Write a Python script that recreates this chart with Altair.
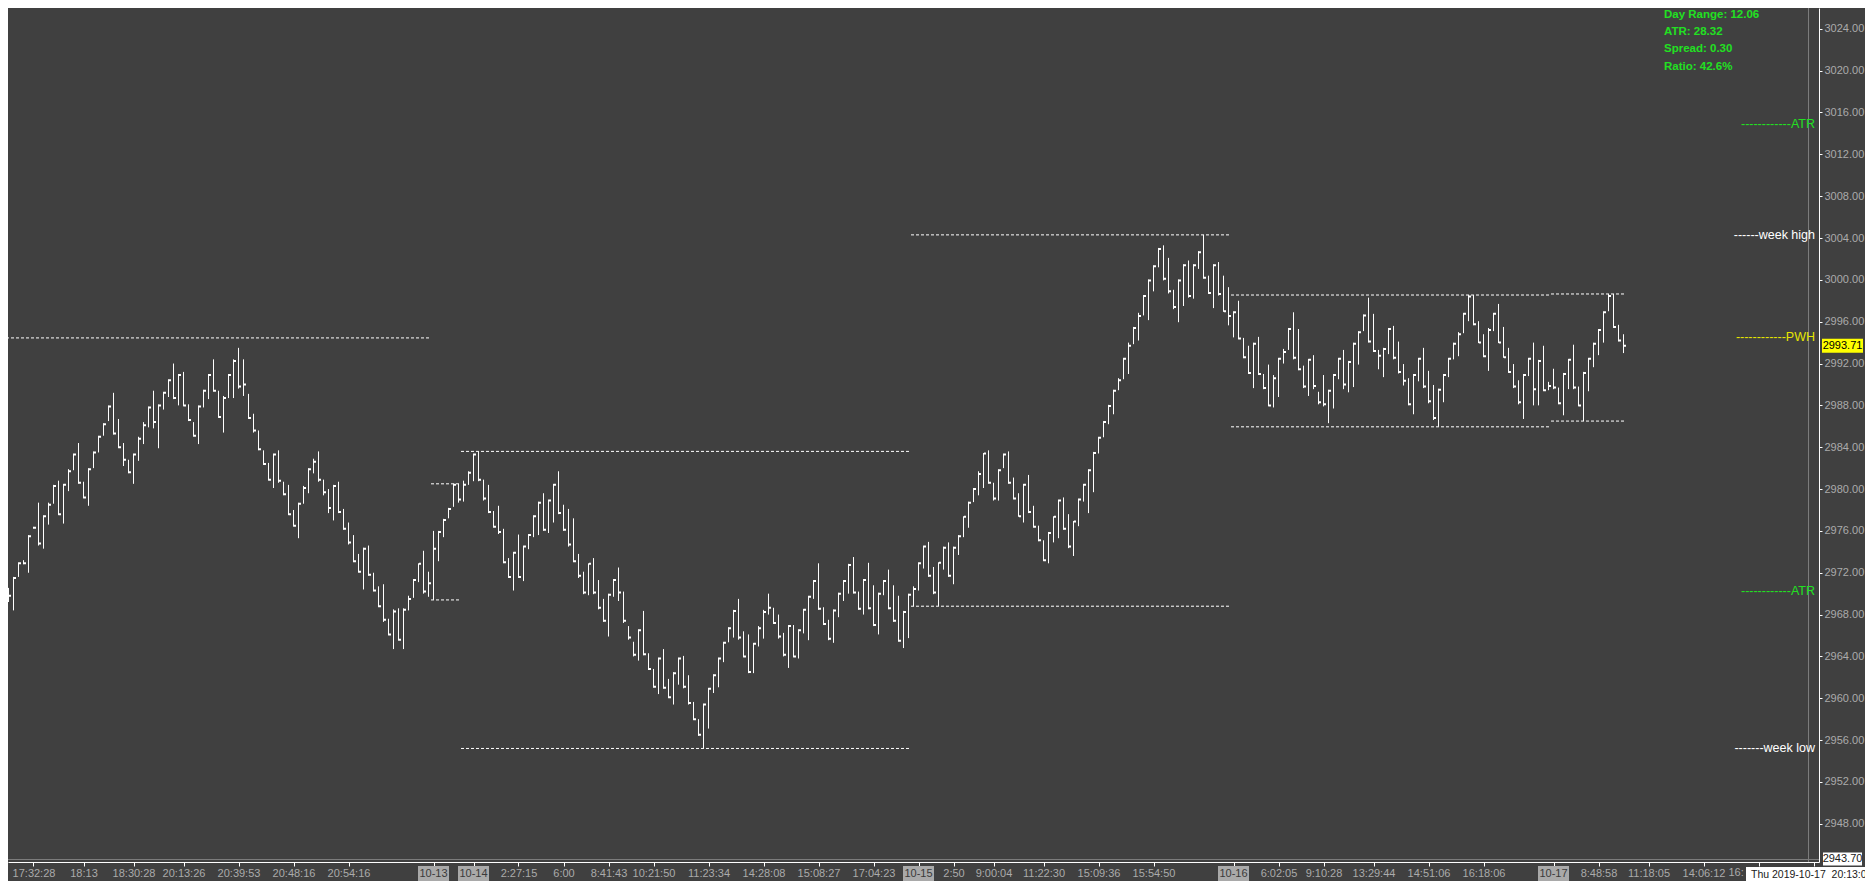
import json
import altair as alt
import pandas as pd

# ---------------- layout / style ----------------
W, H = 1811, 854
PAD_R, PAD_B = 46, 19
BG = "#404040"
WHITE = "#ffffff"
GREEN = "#22e022"
YELLOW = "#e6e600"
AXIS_TXT = "#ababab"
FONT = "Liberation Sans"

# ---------------- data ----------------
high = [
    2970.55, 2971.6, 2973.0, 2973.2, 2975.6, 2976.4, 2978.7, 2977.5, 2978.7, 2980.4,
    2980.8, 2980.5, 2981.9, 2983.4, 2984.4, 2980.7, 2982.0, 2983.6, 2985.1, 2986.3,
    2988.0, 2989.2, 2986.7, 2984.4, 2982.8, 2983.4, 2985.0, 2986.4, 2987.9, 2989.4,
    2988.1, 2989.3, 2990.5, 2992.0, 2991.0, 2991.2, 2988.1, 2986.4, 2988.0, 2989.5,
    2991.0, 2992.4, 2989.4, 2988.9, 2991.0, 2992.4, 2993.5, 2992.4, 2989.1, 2987.2,
    2985.6, 2983.7, 2982.5, 2983.4, 2983.7, 2980.7, 2980.4, 2978.0, 2978.7, 2980.3,
    2982.0, 2982.9, 2983.6, 2980.9, 2980.0, 2980.4, 2980.7, 2978.1, 2976.8, 2975.6,
    2973.8, 2974.4, 2974.6, 2972.0, 2970.7, 2970.9, 2967.6, 2968.5, 2968.6, 2968.6,
    2969.8, 2971.4, 2972.9, 2974.1, 2972.1, 2976.0, 2976.0, 2977.15, 2978.2, 2980.5,
    2980.5, 2980.8, 2981.7, 2983.4, 2983.6, 2980.9, 2980.4, 2977.9, 2978.4, 2976.2,
    2973.4, 2974.0, 2975.65, 2974.6, 2975.7, 2977.5, 2978.8, 2979.6, 2979.0, 2980.5,
    2981.7, 2978.5, 2978.1, 2977.2, 2973.8, 2972.1, 2972.9, 2973.4, 2971.3, 2969.5,
    2970.0, 2971.4, 2972.5, 2970.2, 2966.9, 2965.4, 2966.6, 2968.35, 2964.3, 2962.8,
    2963.9, 2964.7, 2961.85, 2962.5, 2963.9, 2964.05, 2962.2, 2959.65, 2958.0, 2959.5,
    2961.0, 2962.3, 2963.9, 2965.4, 2966.8, 2968.45, 2969.5, 2966.4, 2966.1, 2965.3,
    2966.9, 2968.45, 2970.0, 2968.65, 2968.0, 2966.25, 2967.0, 2967.0, 2966.6, 2968.55,
    2969.8, 2971.3, 2972.9, 2968.7, 2967.5, 2968.5, 2970.1, 2971.3, 2972.85, 2973.5,
    2970.2, 2971.4, 2972.95, 2970.8, 2970.1, 2971.3, 2972.3, 2970.8, 2969.8, 2968.35,
    2970.0, 2970.7, 2973.0, 2974.6, 2974.95, 2972.55, 2973.0, 2974.5, 2974.9, 2974.5,
    2975.6, 2977.4, 2978.8, 2980.1, 2981.7, 2983.45, 2983.7, 2980.6, 2981.9, 2983.4,
    2983.6, 2981.1, 2979.6, 2980.5, 2981.35, 2978.4, 2976.5, 2975.1, 2975.9, 2977.4,
    2979.0, 2979.2, 2977.6, 2976.95, 2979.1, 2980.5, 2981.9, 2983.55, 2985.0, 2986.5,
    2988.05, 2989.5, 2990.6, 2992.55, 2994.0, 2995.5, 2996.85, 2998.55, 3000.05, 3001.4,
    3003.05, 3003.3, 3002.1, 2999.05, 3000.05, 3001.5, 3001.85, 3001.5, 3002.75, 3004.3,
    3000.4, 3001.5, 3001.7, 3000.4, 2999.3, 2997.0, 2998.0, 2994.45, 2993.7, 2994.0,
    2994.55, 2991.0, 2991.9, 2990.9, 2992.55, 2993.4, 2995.4, 2996.9, 2995.3, 2991.8,
    2992.45, 2992.8, 2989.3, 2990.9, 2989.5, 2991.0, 2992.55, 2993.3, 2992.25, 2994.0,
    2995.1, 2996.7, 2998.3, 2996.75, 2993.3, 2993.5, 2995.4, 2995.6, 2994.1, 2991.95,
    2990.6, 2991.0, 2992.55, 2993.5, 2991.3, 2989.95, 2989.6, 2991.0, 2992.55, 2994.0,
    2995.0, 2996.85, 2998.55, 2998.55, 2996.05, 2994.8, 2995.4, 2996.85, 2997.7, 2995.5,
    2993.5, 2991.95, 2990.4, 2991.0, 2992.55, 2994.0, 2992.35, 2993.7, 2990.25, 2991.5,
    2989.7, 2991.1, 2992.45, 2993.8, 2989.8, 2991.2, 2992.55, 2994.0, 2995.3, 2997.0,
    2998.65, 2998.65, 2995.7, 2994.8,
]
low = [
    2969.2, 2968.4, 2971.6, 2972.8, 2972.0, 2976.2, 2974.6, 2974.3, 2976.6, 2978.6,
    2977.5, 2976.7, 2979.8, 2981.8, 2980.5, 2979.1, 2978.4, 2982.0, 2983.5, 2985.1,
    2986.5, 2985.2, 2983.9, 2982.2, 2981.5, 2980.5, 2982.7, 2984.3, 2985.9, 2985.8,
    2983.9, 2987.6, 2988.8, 2988.6, 2988.0, 2987.9, 2986.5, 2985.0, 2984.3, 2987.8,
    2988.6, 2989.3, 2986.8, 2985.4, 2988.7, 2988.7, 2989.6, 2988.9, 2986.7, 2985.4,
    2983.7, 2982.3, 2980.8, 2980.1, 2980.6, 2979.4, 2977.5, 2976.4, 2975.3, 2978.6,
    2979.6, 2981.5, 2980.7, 2979.4, 2977.7, 2977.0, 2977.7, 2976.1, 2974.7, 2973.0,
    2972.0, 2970.4, 2971.7, 2970.2, 2968.7, 2967.3, 2966.0, 2964.7, 2965.5, 2964.7,
    2968.4, 2969.6, 2971.1, 2970.0, 2969.7, 2969.4, 2973.1, 2975.4, 2977.2, 2978.3,
    2978.7, 2978.8, 2980.4, 2980.75, 2980.75, 2978.9, 2977.7, 2976.3, 2975.7, 2972.9,
    2971.5, 2970.3, 2971.5, 2971.2, 2974.25, 2975.4, 2975.6, 2976.0, 2975.8, 2976.8,
    2977.6, 2976.0, 2974.5, 2973.0, 2971.5, 2969.95, 2969.85, 2969.95, 2968.5, 2967.3,
    2965.9, 2969.7, 2969.3, 2967.2, 2965.6, 2964.0, 2963.6, 2964.1, 2962.7, 2961.0,
    2960.4, 2960.9, 2960.0, 2959.4, 2961.3, 2960.95, 2959.4, 2957.9, 2956.4, 2955.2,
    2957.1, 2960.5, 2961.05, 2963.45, 2965.35, 2965.8, 2965.6, 2963.9, 2962.4, 2962.4,
    2964.95, 2965.7, 2968.0, 2967.1, 2965.7, 2964.0, 2962.9, 2963.9, 2963.8, 2966.2,
    2965.55, 2969.5, 2968.45, 2967.0, 2965.55, 2965.3, 2967.75, 2969.3, 2970.0, 2970.0,
    2968.45, 2968.0, 2968.5, 2966.9, 2966.1, 2969.85, 2968.5, 2967.3, 2965.4, 2964.8,
    2965.75, 2968.8, 2970.3, 2972.4, 2971.6, 2969.95, 2968.8, 2972.3, 2971.6, 2970.9,
    2973.7, 2975.4, 2976.3, 2978.75, 2979.4, 2980.1, 2980.5, 2978.9, 2978.9, 2982.0,
    2980.5, 2979.0, 2977.35, 2976.8, 2977.7, 2976.3, 2975.0, 2973.1, 2972.9, 2974.9,
    2975.3, 2976.1, 2974.35, 2973.6, 2976.45, 2978.8, 2977.7, 2979.7, 2983.4, 2984.95,
    2986.2, 2987.15, 2989.45, 2990.5, 2991.0, 2993.85, 2994.2, 2996.6, 2996.15, 2998.9,
    3001.2, 2999.95, 2998.7, 2997.2, 2995.95, 2997.5, 2998.3, 2998.2, 3001.05, 3000.1,
    2998.65, 2997.3, 2998.5, 2996.94, 2995.65, 2994.5, 2994.3, 2992.5, 2991.0, 2989.65,
    2990.9, 2989.55, 2987.9, 2987.8, 2988.8, 2992.0, 2993.3, 2992.4, 2991.35, 2989.65,
    2988.9, 2989.55, 2988.1, 2987.9, 2986.3, 2987.7, 2990.5, 2989.55, 2989.25, 2989.75,
    2991.9, 2995.1, 2994.0, 2993.1, 2991.45, 2990.7, 2992.9, 2992.4, 2991.05, 2989.9,
    2988.0, 2987.15, 2990.3, 2989.65, 2988.2, 2986.6, 2985.95, 2988.3, 2990.7, 2992.4,
    2992.7, 2994.9, 2996.05, 2995.65, 2993.95, 2992.6, 2991.3, 2995.1, 2993.95, 2992.55,
    2991.1, 2989.65, 2988.1, 2986.7, 2990.8, 2988.0, 2988.0, 2989.35, 2989.45, 2989.55,
    2988.1, 2987.05, 2989.55, 2989.55, 2987.9, 2986.5, 2989.35, 2991.65, 2992.8, 2994.0,
    2997.0, 2995.4, 2994.1, 2993.0,
]
close = [
    2969.8, 2971.5, 2972.9, 2972.9, 2975.5, 2976.3, 2974.8, 2977.4, 2978.5, 2980.3,
    2977.6, 2980.4, 2981.7, 2983.3, 2980.6, 2979.2, 2981.9, 2983.5, 2985.0, 2986.2,
    2987.9, 2985.3, 2984.0, 2982.8, 2981.6, 2983.3, 2984.8, 2986.1, 2987.8, 2986.4,
    2988.0, 2989.2, 2990.4, 2988.7, 2990.9, 2988.0, 2986.6, 2985.1, 2987.9, 2989.4,
    2990.9, 2989.4, 2986.9, 2988.7, 2990.9, 2992.25, 2989.8, 2990.0, 2986.8, 2985.6,
    2983.8, 2982.4, 2980.9, 2983.3, 2980.8, 2979.5, 2977.6, 2976.5, 2978.6, 2980.1,
    2981.9, 2982.6, 2980.9, 2979.7, 2978.2, 2980.3, 2977.8, 2976.2, 2974.9, 2973.1,
    2972.1, 2974.3, 2971.8, 2970.3, 2968.8, 2967.5, 2966.1, 2968.3, 2965.6, 2968.45,
    2969.5, 2971.3, 2972.85, 2970.2, 2971.0, 2974.3, 2975.9, 2977.05, 2978.1, 2980.4,
    2979.0, 2980.4, 2981.55, 2983.3, 2980.9, 2979.1, 2977.8, 2976.4, 2975.9, 2973.0,
    2971.6, 2973.9, 2971.6, 2974.5, 2975.6, 2977.4, 2978.7, 2976.1, 2978.9, 2980.4,
    2977.7, 2976.1, 2974.7, 2973.1, 2971.7, 2970.1, 2972.85, 2970.1, 2968.65, 2967.4,
    2969.9, 2971.3, 2970.1, 2967.4, 2965.8, 2964.15, 2966.5, 2964.2, 2962.8, 2961.1,
    2963.8, 2961.0, 2960.1, 2962.4, 2963.8, 2961.1, 2959.55, 2958.0, 2956.5, 2959.4,
    2960.9, 2962.2, 2963.8, 2965.3, 2966.7, 2968.35, 2965.8, 2964.0, 2962.5, 2965.2,
    2966.7, 2968.25, 2968.65, 2967.2, 2965.9, 2964.15, 2966.9, 2964.0, 2966.5, 2968.45,
    2969.7, 2971.2, 2968.55, 2967.1, 2965.7, 2968.4, 2970.0, 2971.2, 2972.75, 2970.1,
    2968.55, 2971.3, 2968.6, 2967.0, 2970.0, 2971.2, 2968.6, 2967.4, 2965.5, 2968.25,
    2969.9, 2970.45, 2972.9, 2974.5, 2971.7, 2970.1, 2972.95, 2974.4, 2971.7, 2974.4,
    2975.5, 2977.35, 2978.7, 2980.0, 2981.45, 2983.4, 2980.6, 2979.1, 2981.8, 2983.3,
    2980.6, 2979.1, 2977.4, 2980.4, 2977.8, 2976.4, 2975.1, 2973.2, 2975.8, 2977.35,
    2978.9, 2976.2, 2974.5, 2976.9, 2979.0, 2980.4, 2981.8, 2983.45, 2984.9, 2986.4,
    2987.95, 2989.4, 2990.4, 2992.45, 2993.7, 2995.4, 2996.55, 2998.45, 2999.95, 3001.3,
    3002.95, 3000.1, 2998.9, 2997.4, 2999.95, 3001.4, 2998.45, 3001.4, 3002.65, 3000.2,
    2998.75, 3001.4, 2998.65, 2997.0, 2996.55, 2996.9, 2994.4, 2992.6, 2991.1, 2993.9,
    2991.0, 2989.65, 2988.0, 2990.6, 2992.45, 2993.1, 2995.3, 2992.55, 2991.45, 2989.8,
    2992.35, 2989.85, 2988.3, 2988.1, 2989.4, 2990.9, 2992.45, 2990.0, 2992.15, 2993.9,
    2995.0, 2996.6, 2994.1, 2993.2, 2992.75, 2993.4, 2995.3, 2992.55, 2991.2, 2990.35,
    2988.1, 2990.9, 2992.45, 2989.8, 2988.4, 2986.8, 2989.5, 2990.9, 2992.45, 2993.9,
    2994.8, 2996.75, 2998.4, 2995.75, 2994.0, 2992.7, 2995.2, 2996.75, 2994.0, 2992.6,
    2991.2, 2989.8, 2988.3, 2990.9, 2992.45, 2989.55, 2992.25, 2989.45, 2989.85, 2989.7,
    2988.2, 2991.0, 2992.35, 2989.7, 2988.0, 2991.1, 2992.45, 2993.9, 2995.2, 2996.9,
    2998.45, 2995.5, 2994.2, 2993.71,
]
assert len(high) == len(low) == len(close)

# session levels (dashed white lines)
day_names = ["10-13", "10-14", "10-15", "10-16", "10-17"]
day_first = [85, 91, 181, 245, 309]
day_last = [90, 180, 244, 308, 323]
day_high = [2980.5, 2983.6, 3004.3, 2998.55, 2998.65]
day_low = [2969.4, 2955.2, 2968.8, 2985.95, 2986.5]

# previous week high (left dashed line)
pwh_price = 2994.45
pwh_first, pwh_last = 0, 84

# right-edge annotations
ann_text = ["------------ATR", "------week high", "------------PWH", "------------ATR", "-------week low"]
ann_price = [3014.9, 3004.3, 2994.5, 2970.3, 2955.2]
ann_color = [GREEN, WHITE, YELLOW, GREEN, WHITE]

info_lines = ["Day Range: 12.06", "ATR: 28.32", "Spread: 0.30", "Ratio: 42.6%"]

last_price = 2993.71
bottom_price = 2943.70
date_text = "Thu 2019-10-17\u00a0 20:13:00"

# x-axis ticks (bar index) and labels
tick_idx = [5, 15, 25, 35, 46, 57, 68, 85, 93, 102, 111, 120, 129, 140, 151, 162, 173, 182,
            189, 197, 207, 218, 229, 245, 254, 263, 273, 284, 295, 309, 318, 328, 339, 350, 361]
tick_lbl = ["17:32:28", "18:13", "18:30:28", "20:13:26", "20:39:53", "20:48:16", "20:54:16",
            "10-13", "10-14", "2:27:15", "6:00", "8:41:43", "10:21:50", "11:23:34", "14:28:08",
            "15:08:27", "17:04:23", "10-15", "2:50", "9:00:04", "11:22:30", "15:09:36", "15:54:50",
            "10-16", "6:02:05", "9:10:28", "13:29:44", "14:51:06", "16:18:06", "10-17", "8:48:58",
            "11:18:05", "14:06:12", "16:", ""]

y_ticks = list(range(2948, 3025, 4))

# ---------------- frames ----------------
bars = pd.DataFrame({"i": list(range(len(high))), "high": high, "low": low, "close": close})

lv_rows = [{"x0": pwh_first - 0.5, "x1": pwh_last + 0.5, "level": pwh_price}]
for f, l, hi, lo in zip(day_first, day_last, day_high, day_low):
    lv_rows.append({"x0": f - 0.5, "x1": l + 0.5, "level": hi})
    lv_rows.append({"x0": f - 0.5, "x1": l + 0.5, "level": lo})
levels = pd.DataFrame(lv_rows)

ann = pd.DataFrame({"label": ann_text, "price": ann_price, "color": ann_color})

special = set(day_names) | {"16:"}
axis_map = {str(i): ("" if t in special else t) for i, t in zip(tick_idx, tick_lbl)}
day_lbl = pd.DataFrame([{"i": i, "name": t} for i, t in zip(tick_idx, tick_lbl) if t in day_names])
cut_lbl = pd.DataFrame([{"i": i, "name": t} for i, t in zip(tick_idx, tick_lbl) if t == "16:"])

# price scale: 10.46 px per point, same as the reference; 5 px per bar
PX_PER_PT = 10.46
PX_PER_BAR = 5.0
y_top = 3025.99
x_left = -0.1
ys = alt.Scale(domain=[y_top - H / PX_PER_PT, y_top], nice=False, zero=False)
xs = alt.Scale(domain=[x_left, x_left + W / PX_PER_BAR], nice=False, zero=False)

x_axis = alt.Axis(
    orient="bottom", values=tick_idx, labelExpr=json.dumps(axis_map) + "[''+datum.value] || ''",
    labelColor=AXIS_TXT, labelFont=FONT, labelFontSize=11, tickColor=WHITE, tickSize=4,
    domainColor=WHITE, labelPadding=1, grid=False, title=None, labelOverlap=False, labelFlush=False,
)
y_axis = alt.Axis(
    orient="right", values=y_ticks, format=".2f", labelColor=AXIS_TXT, labelFont=FONT,
    labelFontSize=11, tickColor=WHITE, tickSize=3, domainColor=WHITE, labelPadding=2,
    grid=False, title=None, labelOverlap=False,
)

def X(field):
    return alt.X(field, scale=xs, axis=x_axis)

def Y(field):
    return alt.Y(field, scale=ys, axis=y_axis)

wicks = alt.Chart(bars).mark_rule(color=WHITE, strokeWidth=1).encode(
    x=X("i:Q"), y=Y("high:Q"), y2="low:Q",
)
closes = alt.Chart(bars).mark_point(shape="square", size=4, filled=True, color=WHITE, opacity=1, xOffset=1.5).encode(
    x=X("i:Q"), y=Y("close:Q")
)

# grey frame lines (bottom price line and cursor line)
frame_df = pd.DataFrame({"p": [bottom_price]})
grey_h = alt.Chart(frame_df).mark_rule(color="#7c7c7c", strokeWidth=1).encode(
    x=alt.value(0), x2=alt.value(W), y=alt.value(H - 2.5)
)
grey_v = alt.Chart(frame_df).mark_rule(color="#7c7c7c", strokeWidth=1).encode(
    x=alt.value(W - 10.5), y=alt.value(0), y2=alt.value(H)
)

level_lines = alt.Chart(levels).mark_rule(color=WHITE, strokeWidth=1, strokeDash=[3, 2]).encode(
    x=X("x0:Q"), x2="x1:Q", y=Y("level:Q")
)

ann_layer = alt.Chart(ann).mark_text(align="right", baseline="middle", font=FONT, fontSize=12.5).encode(
    x=alt.value(W - 4), y=Y("price:Q"), text="label:N", color=alt.Color("color:N", scale=None)
)

info = alt.Chart(pd.DataFrame({"k": [0]})).mark_text(
    align="left", baseline="top", font=FONT, fontSize=11.5, fontWeight="bold", lineHeight=17.4, color=GREEN
).encode(x=alt.value(1656), y=alt.value(0.5), text=alt.value(info_lines))

def box_path(w, h):
    r = h / w
    return f"M-1,{-r:.4f}L1,{-r:.4f}L1,{r:.4f}L-1,{r:.4f}Z"

last_df = pd.DataFrame({"p": [last_price]})
last_box = alt.Chart(last_df).mark_point(shape=box_path(41, 14), size=41 * 41, filled=True, color="#ffff00", opacity=1).encode(
    x=alt.value(W + 23.5), y=Y("p:Q")
)
last_txt = alt.Chart(last_df).mark_text(font=FONT, fontSize=11, color="#000000", baseline="middle").encode(
    x=alt.value(W + 23.5), y=Y("p:Q"), text=alt.Text("p:Q", format=".2f")
)

bot_box = alt.Chart(frame_df).mark_point(shape=box_path(39, 13), size=39 * 39, filled=True, color=WHITE, opacity=1).encode(
    x=alt.value(W + 23.5), y=alt.value(H - 3)
)
bot_txt = alt.Chart(frame_df).mark_text(font=FONT, fontSize=11, color="#202020", baseline="middle").encode(
    x=alt.value(W + 23.5), y=alt.value(H - 3), text=alt.Text("p:Q", format=".2f")
)

day_box = alt.Chart(day_lbl).mark_point(shape=box_path(31, 15), size=31 * 31, filled=True, color="#a9a9a9", opacity=1).encode(
    x=X("i:Q"), y=alt.value(H + 11.5)
)
day_txt = alt.Chart(day_lbl).mark_text(font=FONT, fontSize=11, color="#3a3a3a", baseline="middle").encode(
    x=X("i:Q"), y=alt.value(H + 11.5), text="name:N"
)
cut_txt = alt.Chart(cut_lbl).mark_text(font=FONT, fontSize=11, color=AXIS_TXT, baseline="middle", align="left", dx=-30).encode(
    x=X("i:Q"), y=alt.value(H + 11), text="name:N"
)

date_df = pd.DataFrame({"t": [date_text]})
date_box = alt.Chart(date_df).mark_rect(color=WHITE).encode(
    x=alt.value(1738), x2=alt.value(1880), y=alt.value(H + 5), y2=alt.value(H + 20)
)
date_txt = alt.Chart(date_df).mark_text(font=FONT, fontSize=10.5, color="#202020", baseline="middle", align="left").encode(
    x=alt.value(1743), y=alt.value(H + 12.5), text="t:N"
)

chart = alt.layer(
    wicks, grey_h, grey_v, level_lines, closes, ann_layer, info,
    last_box, last_txt, bot_box, bot_txt, day_box, day_txt, cut_txt, date_box, date_txt,
).properties(
    width=W, height=H, background=BG,
    autosize=alt.AutoSizeParams(type="none"),
    padding={"left": 0, "top": 0, "right": PAD_R, "bottom": PAD_B},
).configure_view(stroke=None)

chart.save("out.html", embed_options={"renderer": "svg", "actions": False})
